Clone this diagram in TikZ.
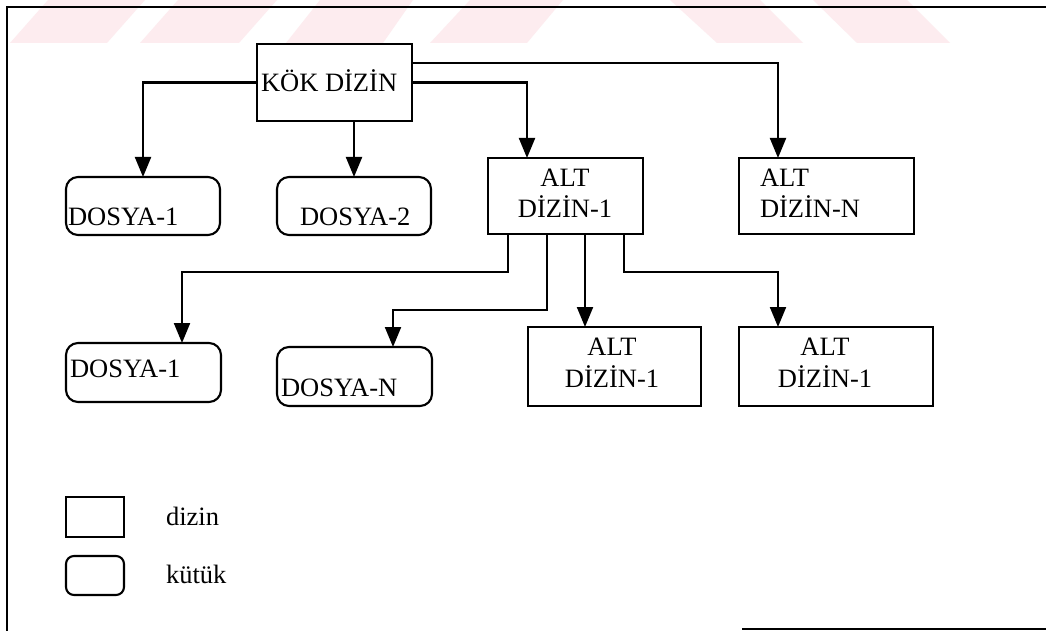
\documentclass[tikz,border=0pt]{standalone}
\usepackage{fontspec}
\setmainfont{Liberation Serif}
\usetikzlibrary{arrows.meta,calc}
\definecolor{wmpink}{RGB}{253,236,239}
\begin{document}
\begin{tikzpicture}[x=1pt,y=-1pt,
  boxbase/.style={draw, line width=2.1pt, inner sep=0pt, outer sep=0pt},
  dirbox/.style={boxbase},
  filebox/.style={boxbase, rounded corners=12pt},
  lbl/.style={inner sep=0pt, outer sep=0pt, font=\fontsize{26.5}{31}\selectfont},
  conn/.style={line width=2.1pt, -{Triangle[length=20pt,width=16pt]}},
  frameline/.style={line width=2.6pt}]
\useasboundingbox (0,0) rectangle (1046,631);
\fill[white] (0,0) rectangle (1046,631);
% watermark stripes
\fill[wmpink] (10,43) -- (48,0) -- (145,0) -- (107,43) -- cycle;
\fill[wmpink] (140,43) -- (178,0) -- (277,0) -- (239,43) -- cycle;
\fill[wmpink] (286,43) -- (320,0) -- (413,0) -- (383,43) -- cycle;
\fill[wmpink] (430,43) -- (470,0) -- (563,0) -- (527,43) -- cycle;
\fill[wmpink] (670,0) -- (760,0) -- (803,43) -- (717,43) -- cycle;
\fill[wmpink] (813,0) -- (907,0) -- (950,43) -- (857,43) -- cycle;
% frame
\draw[frameline] (1046,7) -- (7,7) -- (7,631);
\draw[line width=2.2pt] (742,629) -- (1046,629);
% boxes
\node[dirbox, minimum width=155pt, minimum height=77pt] (kok) at (334.5,82.5) {};
\node[filebox, minimum width=154pt, minimum height=58pt] (d1) at (143,206) {};
\node[filebox, minimum width=154pt, minimum height=58pt] (d2) at (354,206) {};
\node[dirbox, minimum width=155pt, minimum height=76pt] (a1) at (565.5,196) {};
\node[dirbox, minimum width=175pt, minimum height=76pt] (aN) at (826.5,196) {};
\node[filebox, minimum width=155pt, minimum height=59pt] (d3) at (143.5,372.5) {};
\node[filebox, minimum width=155pt, minimum height=59pt] (dN) at (354.5,376.5) {};
\node[dirbox, minimum width=173pt, minimum height=79pt] (a2) at (614.5,366.5) {};
\node[dirbox, minimum width=194pt, minimum height=79pt] (a3) at (836,366.5) {};
% legend
\node[dirbox, minimum width=58pt, minimum height=40pt] (legd) at (95,517) {};
\node[filebox, rounded corners=8pt, minimum width=58pt, minimum height=39pt] (legf) at (95,575.5) {};
% texts
\node[lbl, anchor=base west] (tkok) at (261,92) {KÖK DİZİN};
\node[lbl, anchor=base west] (td1) at (68,225) {DOSYA-1};
\node[lbl, anchor=base west] (td2) at (300,225) {DOSYA-2};
\node[lbl, anchor=base] (ta1a) at (565,186) {ALT};
\node[lbl, anchor=base] (ta1b) at (565,217) {DİZİN-1};
\node[lbl, anchor=base west] (taNa) at (760,186) {ALT};
\node[lbl, anchor=base west] (taNb) at (760,217) {DİZİN-N};
\node[lbl, anchor=base west] (td3) at (70,377) {DOSYA-1};
\node[lbl, anchor=base west] (tdN) at (281,396) {DOSYA-N};
\node[lbl, anchor=base] (ta2a) at (612,355) {ALT};
\node[lbl, anchor=base] (ta2b) at (612,387) {DİZİN-1};
\node[lbl, anchor=base] (ta3a) at (825,355) {ALT};
\node[lbl, anchor=base] (ta3b) at (825,387) {DİZİN-1};
\node[lbl, anchor=base west] (tlegd) at (166,525) {dizin};
\node[lbl, anchor=base west] (tlegf) at (166,583) {kütük};
% connector points
\coordinate (a1in) at ($(a1.north west)+(39,0)$);
\coordinate (kokr) at ($(kok.north east)+(0,19)$);
\coordinate (aNin) at ($(aN.north west)+(39,0)$);
\coordinate (o1) at ($(a1.south west)+(20,0)$);
\coordinate (o2) at ($(a1.south west)+(59,0)$);
\coordinate (o3) at ($(a1.south west)+(97,0)$);
\coordinate (o4) at ($(a1.south west)+(136,0)$);
\coordinate (d3in) at ($(d3.north west)+(116,0)$);
\coordinate (dNin) at ($(dN.north west)+(116,0)$);
\coordinate (a2in) at ($(a2.north west)+(57,0)$);
\coordinate (a3in) at ($(a3.north west)+(39,0)$);
% connectors
\draw[conn] (kok.west) -| (d1.north);
\draw[conn] (kok.south -| d2.north) -- (d2.north);
\draw[conn] (kok.east) -| (a1in);
\draw[conn] (kokr) -| (aNin);
\draw[conn] (o1) -- ++(0,38) -| (d3in);
\draw[conn] (o2) -- ++(0,76) -| (dNin);
\draw[conn] (o3) -- (a2in);
\draw[conn] (o4) -- ++(0,38) -| (a3in);
\end{tikzpicture}
\end{document}
